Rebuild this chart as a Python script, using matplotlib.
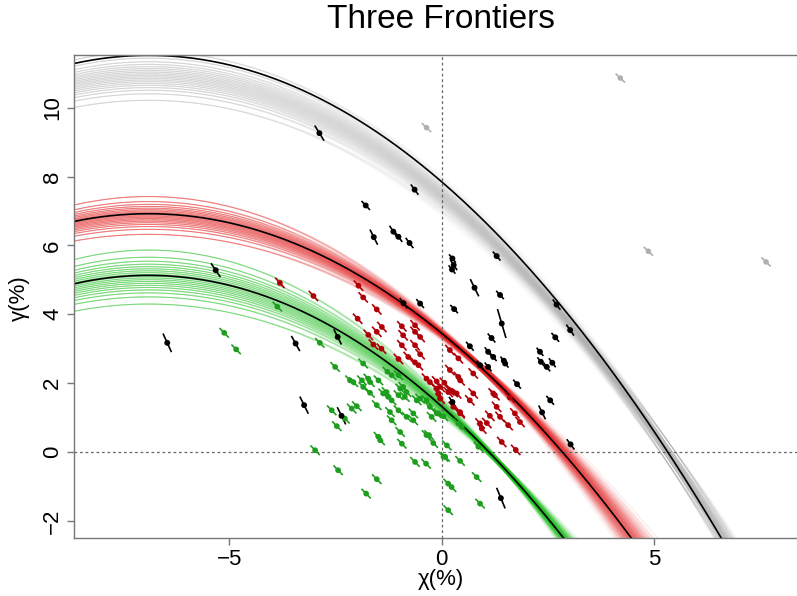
import numpy as np
import matplotlib
matplotlib.use("Agg")
import matplotlib.pyplot as plt
from matplotlib.collections import LineCollection

plt.rcParams['font.family'] = ['Liberation Sans', 'DejaVu Sans']

title = "Three Frontiers"
x_label = "χ(%)"
y_label = "γ(%)"
x_ticks = [-5, 0, 5]
y_ticks = [-2, 0, 2, 4, 6, 8, 10]

# fitted frontiers  gamma = peak - curv * (chi - center)^2
frontier_peak = [11.52, 6.92, 5.13]
frontier_curv = [0.0772, 0.073, 0.080]
frontier_center = [-6.9, -6.9, -6.9]

# posterior draws around each frontier
band_shift = [-0.6, -0.05, -0.05]
band_spread = [0.36, 0.28, 0.40]
band_pivot = [150, 62, 70]
band_noise = [0.0014, 0.0012, 0.0009]
band_colors = ["#8c8c8c", "#e81010", "#12c012"]
band_alpha = [0.055, 0.10, 0.10]
quantile_levels = [-1.96, -1.44, -1.15, -0.935, -0.755, -0.598, -0.454, -0.319, -0.189, -0.063,
                   0.063, 0.189, 0.319, 0.454, 0.598, 0.755, 0.935, 1.15, 1.44, 1.96]
noise_levels = [-1.534, -0.887, -0.489, -0.157, 0.157, 0.489, 0.887, 1.534]

# data points
black_x = [-2.88, -0.64, -1.79, -1.60, -1.14, -1.02, -0.76, 0.25, 0.28, 0.24, -0.90, -0.51, 0.29,
           1.29, 0.77, 1.37, 1.41, 2.70, 3.02, 2.67, 1.17, 0.66, 1.09, 1.21, 1.46, 1.49, 1.09, 0.90,
           2.31, 2.33, 2.47, 2.60, 1.77, 2.55, 2.36, 3.03, 1.39, 0.25, -6.46, -3.44, -3.24, -2.36,
           -2.45, -5.32]
black_y = [9.26, 7.62, 7.16, 6.24, 6.40, 6.25, 6.07, 5.62, 5.43, 5.30, 4.32, 4.31, 4.15,
           5.69, 4.77, 4.56, 3.73, 4.28, 3.54, 3.33, 3.31, 3.07, 2.91, 2.76, 2.65, 2.57, 2.47, 2.52,
           2.91, 2.62, 2.47, 2.59, 1.97, 1.50, 1.15, 0.22, -1.34, 1.45, 3.17, 3.15, 1.36, 1.05,
           3.34, 5.28]
black_err_x = [0.11, 0.09, 0.10, 0.09, 0.09, 0.09, 0.09, 0.08, 0.08, 0.08, 0.09, 0.09, 0.09,
               0.09, 0.10, 0.09, 0.10, 0.09, 0.09, 0.09, 0.09, 0.09, 0.08, 0.08, 0.08, 0.08, 0.08, 0.08,
               0.08, 0.08, 0.08, 0.08, 0.09, 0.09, 0.08, 0.09, 0.10, 0.08, 0.10, 0.10, 0.10, 0.10,
               0.09, 0.11]
black_err_y = [0.22, 0.15, 0.13, 0.22, 0.17, 0.15, 0.15, 0.12, 0.15, 0.12, 0.15, 0.13, 0.12,
               0.13, 0.25, 0.12, 0.42, 0.15, 0.16, 0.13, 0.13, 0.13, 0.13, 0.12, 0.12, 0.12, 0.13, 0.13,
               0.12, 0.13, 0.13, 0.13, 0.13, 0.13, 0.20, 0.15, 0.30, 0.15, 0.27, 0.22, 0.25, 0.25,
               0.22, 0.20]

red_x = [-3.81, -3.02, -1.96, -1.85, -1.53, -1.98, -1.41, -1.53, -0.94, -0.91, -1.73, -1.61, -1.42,
         -0.63, -0.63, -0.51, -0.63, -0.94, -1.02, -0.79, -0.63, -0.55, -0.51, -0.36, -0.28, -0.12,
         -0.04, 0.06, 0.15, 0.27, -0.12, -0.08, -0.04, 0.19, 0.35, 0.27, 0.43, 0.19, 0.39, 0.19,
         0.39, 0.43, 0.74, 0.74, 0.66, 0.43, 0.90, 0.94, 1.06, 1.21, 1.29, 1.37, 1.13, 1.56, 1.41,
         1.74, 1.84, 1.72, 1.60, 1.25]
red_y = [4.91, 4.53, 4.83, 4.49, 4.14, 3.87, 3.63, 3.49, 3.65, 3.39, 3.40, 3.12, 3.00,
         3.68, 3.49, 3.34, 3.10, 3.10, 2.70, 2.76, 2.60, 2.52, 2.84, 2.13, 2.03, 2.05,
         1.89, 2.01, 1.74, 1.74, 1.84, 1.70, 1.55, 1.79, 1.70, 1.31, 1.16, 2.96, 2.72, 2.38,
         2.18, 2.08, 2.28, 1.70, 1.50, 1.12, 0.83, 0.68, 0.84, 1.70, 1.31, 1.02, 1.05, 0.78, 0.29,
         0.06, 0.87, 1.12, 1.58, 1.65]

green_x = [-5.12, -4.84, -3.87, -2.87, -2.51, -1.85, -2.08, -1.88, -1.73, -1.69, -1.49, -1.85, -1.69,
           -1.28, -1.38, -1.26, -1.18, -1.02, -0.98, -0.91, -0.83, -0.87, -1.53, -1.22, -1.18, -1.02,
           -0.83, -0.67, -0.59, -0.51, -0.36, -0.28, -0.12, -2.59, -2.12, -2.00, -2.28, -2.47, -1.49,
           -1.45, -0.98, -0.94, -0.36, -0.20, -2.98, -0.63, -0.37, -2.44, -1.53, -1.78, 0.08, 0.15,
           0.15, 0.12, -0.24, -0.08, 0.04, 0.39, 0.47, 0.04, 0.43, 0.86, 0.82, 0.23, 0.90, -1.18,
           -1.02, -2.16, -1.30, -0.67, -0.30]
green_y = [3.46, 2.98, 4.22, 3.17, 2.47, 2.57, 2.03, 2.08, 2.13, 2.03, 2.08, 1.89, 1.72,
           2.33, 1.70, 1.60, 1.50, 1.65, 1.84, 1.89, 1.74, 1.60, 1.36, 1.16, 0.92, 1.21,
           1.02, 1.12, 1.50, 1.55, 1.50, 1.31, 1.12, 1.21, 1.26, 1.33, 0.97, 0.75, 0.44,
           0.34, 0.58, 0.24, 0.49, 0.26, 0.05, -0.29, -0.34, -0.53, -0.79, -1.21, -0.14, -0.92,
           -1.69, 0.19, 1.02, 1.12, 1.04, 0.83, 0.73, -0.14, -0.26, 0.15, -0.73, -1.02, -1.50, 2.23,
           2.23, 2.08, 1.74, 0.92, 0.49]

grey_x = [4.20, -0.36, 4.86, 7.63]
grey_y = [10.86, 9.42, 5.83, 5.52]

group_err = {"red": (0.11, 0.15), "green": (0.11, 0.14), "grey": (0.11, 0.13)}

XMIN, XMAX = -8.647, 9.3
YMIN, YMAX = -2.49, 11.53

fig = plt.figure(figsize=(7.97, 5.96), dpi=100)
W, H = 797, 596
ax = fig.add_axes([74.3 / W, (H - 537.7) / H, (XMAX - XMIN) * 42.5 / W, 482.7 / H])
ax.set_xlim(XMIN, XMAX)
ax.set_ylim(YMIN, YMAX)

xs = np.linspace(XMIN, XMAX, 500)

# posterior draw bands
for g in range(3):
    a, b, c = frontier_peak[g], frontier_curv[g], frontier_center[g]
    base = a - b * (xs - c) ** 2
    segs = []
    for k, q in enumerate(quantile_levels):
        u = band_shift[g] + band_spread[g] * q
        for j, w in enumerate(noise_levels):
            w2 = noise_levels[(j + k) % len(noise_levels)]
            v = -u / band_pivot[g] + band_noise[g] * w2
            segs.append(np.column_stack([xs, base + u + v * (xs - c) ** 2]))
    ax.add_collection(LineCollection(segs, colors=band_colors[g], alpha=band_alpha[g],
                                     linewidths=0.7, zorder=1))

# reference lines
ax.axhline(0, color="#666666", lw=0.9, ls=(0, (2.2, 2.2)), zorder=1.5)
ax.axvline(0, color="#666666", lw=0.9, ls=(0, (2.2, 2.2)), zorder=1.5)

# fitted frontiers
for g in range(3):
    a, b, c = frontier_peak[g], frontier_curv[g], frontier_center[g]
    ax.plot(xs, a - b * (xs - c) ** 2, color="black", lw=1.2, zorder=2)


def draw_points(px, py, ex, ey, color, size):
    px = np.asarray(px); py = np.asarray(py)
    ex = np.broadcast_to(ex, px.shape); ey = np.broadcast_to(ey, px.shape)
    segs = [[(x - dx, y + dy), (x + dx, y - dy)] for x, y, dx, dy in zip(px, py, ex, ey)]
    ax.add_collection(LineCollection(segs, colors=color, linewidths=1.2, zorder=3))
    ax.scatter(px, py, s=size, color=color, edgecolors="none", zorder=4)


draw_points(grey_x, grey_y, *group_err["grey"], "#b0b0b0", 16)
draw_points(green_x, green_y, *group_err["green"], "#1e9e1e", 17)
draw_points(red_x, red_y, *group_err["red"], "#b00008", 17)
draw_points(black_x, black_y, black_err_x, black_err_y, "black", 18)

# axes styling
for side in ["left", "bottom", "top"]:
    ax.spines[side].set_color("#777777")
    ax.spines[side].set_linewidth(1.0)
ax.spines["right"].set_visible(False)
ax.set_xticks(x_ticks)
ax.set_yticks(y_ticks)
ax.set_xticklabels([f"{t}".replace("-", "\u2212") for t in x_ticks], fontsize=16)
ax.set_yticklabels([f"{t}".replace("-", "\u2212") for t in y_ticks], fontsize=16,
                   rotation=90, va="center")
ax.tick_params(axis="both", direction="out", length=5, width=1.0, color="#777777", pad=3)

fig.text(441 / W, 1 - 20 / H, title, ha="center", va="center", fontsize=24)
fig.text(441 / W, 1 - 579 / H, x_label, ha="center", va="center", fontsize=16)
fig.text(19 / W, 1 - 298 / H, y_label, ha="center", va="center", fontsize=16, rotation=90)

fig.savefig("out.png", dpi=100)
